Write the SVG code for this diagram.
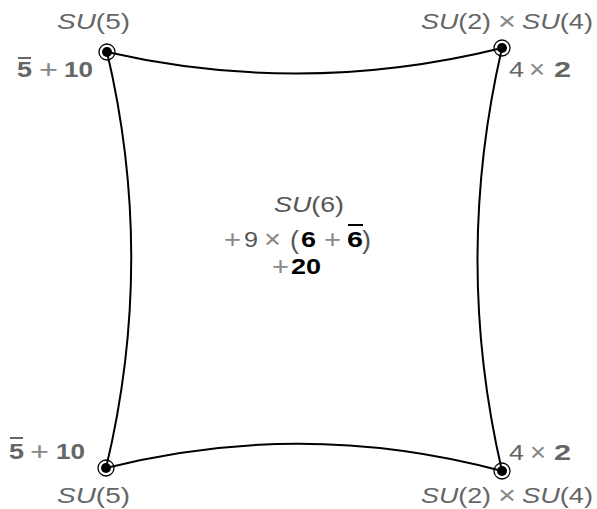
<svg xmlns="http://www.w3.org/2000/svg" width="597" height="509" viewBox="0 0 597 509">
<style>
text{font-family:"Liberation Sans",Arial,sans-serif;font-size:22px;fill:#666}
.i{font-style:italic}
.b{font-weight:bold}
.k{fill:#000}
.l{fill:#888;font-size:25px}
.c{fill:#555}
.p{font-size:25px}
.edge{fill:none;stroke:#000;stroke-width:2}
.ring{fill:none;stroke:#000;stroke-width:1.3}
.ov{stroke:#666;stroke-width:2}
</style>
<defs>
<g id="pt"><circle r="8" class="ring"/><circle r="5" fill="#000"/></g>
</defs>
<g id="connectors">
<path class="edge" d="M107,52 Q304,97 502,48"/>
<path class="edge" d="M107,52 Q156,260 106,468"/>
<path class="edge" d="M502,48 Q453,260 502,471"/>
<path class="edge" d="M106,468 Q304,418 502,471"/>
</g>
<g id="node-tl">
<use href="#pt" x="107" y="52"/>
<text x="57" y="29" textLength="73" lengthAdjust="spacingAndGlyphs"><tspan class="i">SU</tspan>(5)</text>
<text x="17" y="77" class="b" textLength="15" lengthAdjust="spacingAndGlyphs">5</text>
<line class="ov" x1="18" y1="58" x2="31" y2="58"/>
<text x="39" y="78" class="l" textLength="19" lengthAdjust="spacingAndGlyphs">+</text>
<text x="64" y="77" class="b" textLength="29" lengthAdjust="spacingAndGlyphs">10</text>
</g>
<g id="node-tr">
<use href="#pt" x="502" y="48"/>
<text x="421" y="29" textLength="70" lengthAdjust="spacingAndGlyphs"><tspan class="i">SU</tspan>(2)</text>
<text x="498" y="30" class="l" textLength="18" lengthAdjust="spacingAndGlyphs">×</text>
<text x="522" y="29" textLength="71" lengthAdjust="spacingAndGlyphs"><tspan class="i">SU</tspan>(4)</text>
<text x="509" y="77" textLength="15" lengthAdjust="spacingAndGlyphs">4</text>
<text x="529" y="78" class="l" textLength="16" lengthAdjust="spacingAndGlyphs">×</text>
<text x="554" y="77" class="b" textLength="17" lengthAdjust="spacingAndGlyphs">2</text>
</g>
<g id="node-center">
<text x="274" y="212" class="c" textLength="70" lengthAdjust="spacingAndGlyphs"><tspan class="i">SU</tspan>(6)</text>
<text x="224" y="248" class="l" textLength="17" lengthAdjust="spacingAndGlyphs">+</text>
<text x="244" y="247" class="c" textLength="14" lengthAdjust="spacingAndGlyphs">9</text>
<text x="264" y="248" class="l" textLength="17" lengthAdjust="spacingAndGlyphs">×</text>
<text x="290" y="249" class="c p" textLength="9" lengthAdjust="spacingAndGlyphs">(</text>
<text x="301" y="247" class="b k" textLength="15" lengthAdjust="spacingAndGlyphs">6</text>
<text x="324" y="248" class="l" textLength="17" lengthAdjust="spacingAndGlyphs">+</text>
<text x="347" y="247" class="b k" textLength="16" lengthAdjust="spacingAndGlyphs">6</text>
<line x1="348" y1="225" x2="363" y2="225" stroke="#000" stroke-width="2"/>
<text x="362" y="249" class="c p" textLength="9" lengthAdjust="spacingAndGlyphs">)</text>
<text x="272" y="275" class="l" textLength="17" lengthAdjust="spacingAndGlyphs">+</text>
<text x="291" y="274" class="b k" textLength="30" lengthAdjust="spacingAndGlyphs">20</text>
</g>
<g id="node-bl">
<use href="#pt" x="106" y="468"/>
<text x="9" y="459" class="b" textLength="15" lengthAdjust="spacingAndGlyphs">5</text>
<line class="ov" x1="10" y1="438" x2="23" y2="438"/>
<text x="30" y="460" class="l" textLength="19" lengthAdjust="spacingAndGlyphs">+</text>
<text x="56" y="459" class="b" textLength="29" lengthAdjust="spacingAndGlyphs">10</text>
<text x="57" y="503" textLength="73" lengthAdjust="spacingAndGlyphs"><tspan class="i">SU</tspan>(5)</text>
</g>
<g id="node-br">
<use href="#pt" x="502" y="471"/>
<text x="509" y="460" textLength="15" lengthAdjust="spacingAndGlyphs">4</text>
<text x="530" y="461" class="l" textLength="16" lengthAdjust="spacingAndGlyphs">×</text>
<text x="554" y="460" class="b" textLength="17" lengthAdjust="spacingAndGlyphs">2</text>
<text x="421" y="503" textLength="70" lengthAdjust="spacingAndGlyphs"><tspan class="i">SU</tspan>(2)</text>
<text x="498" y="504" class="l" textLength="18" lengthAdjust="spacingAndGlyphs">×</text>
<text x="522" y="503" textLength="71" lengthAdjust="spacingAndGlyphs"><tspan class="i">SU</tspan>(4)</text>
</g>
</svg>
